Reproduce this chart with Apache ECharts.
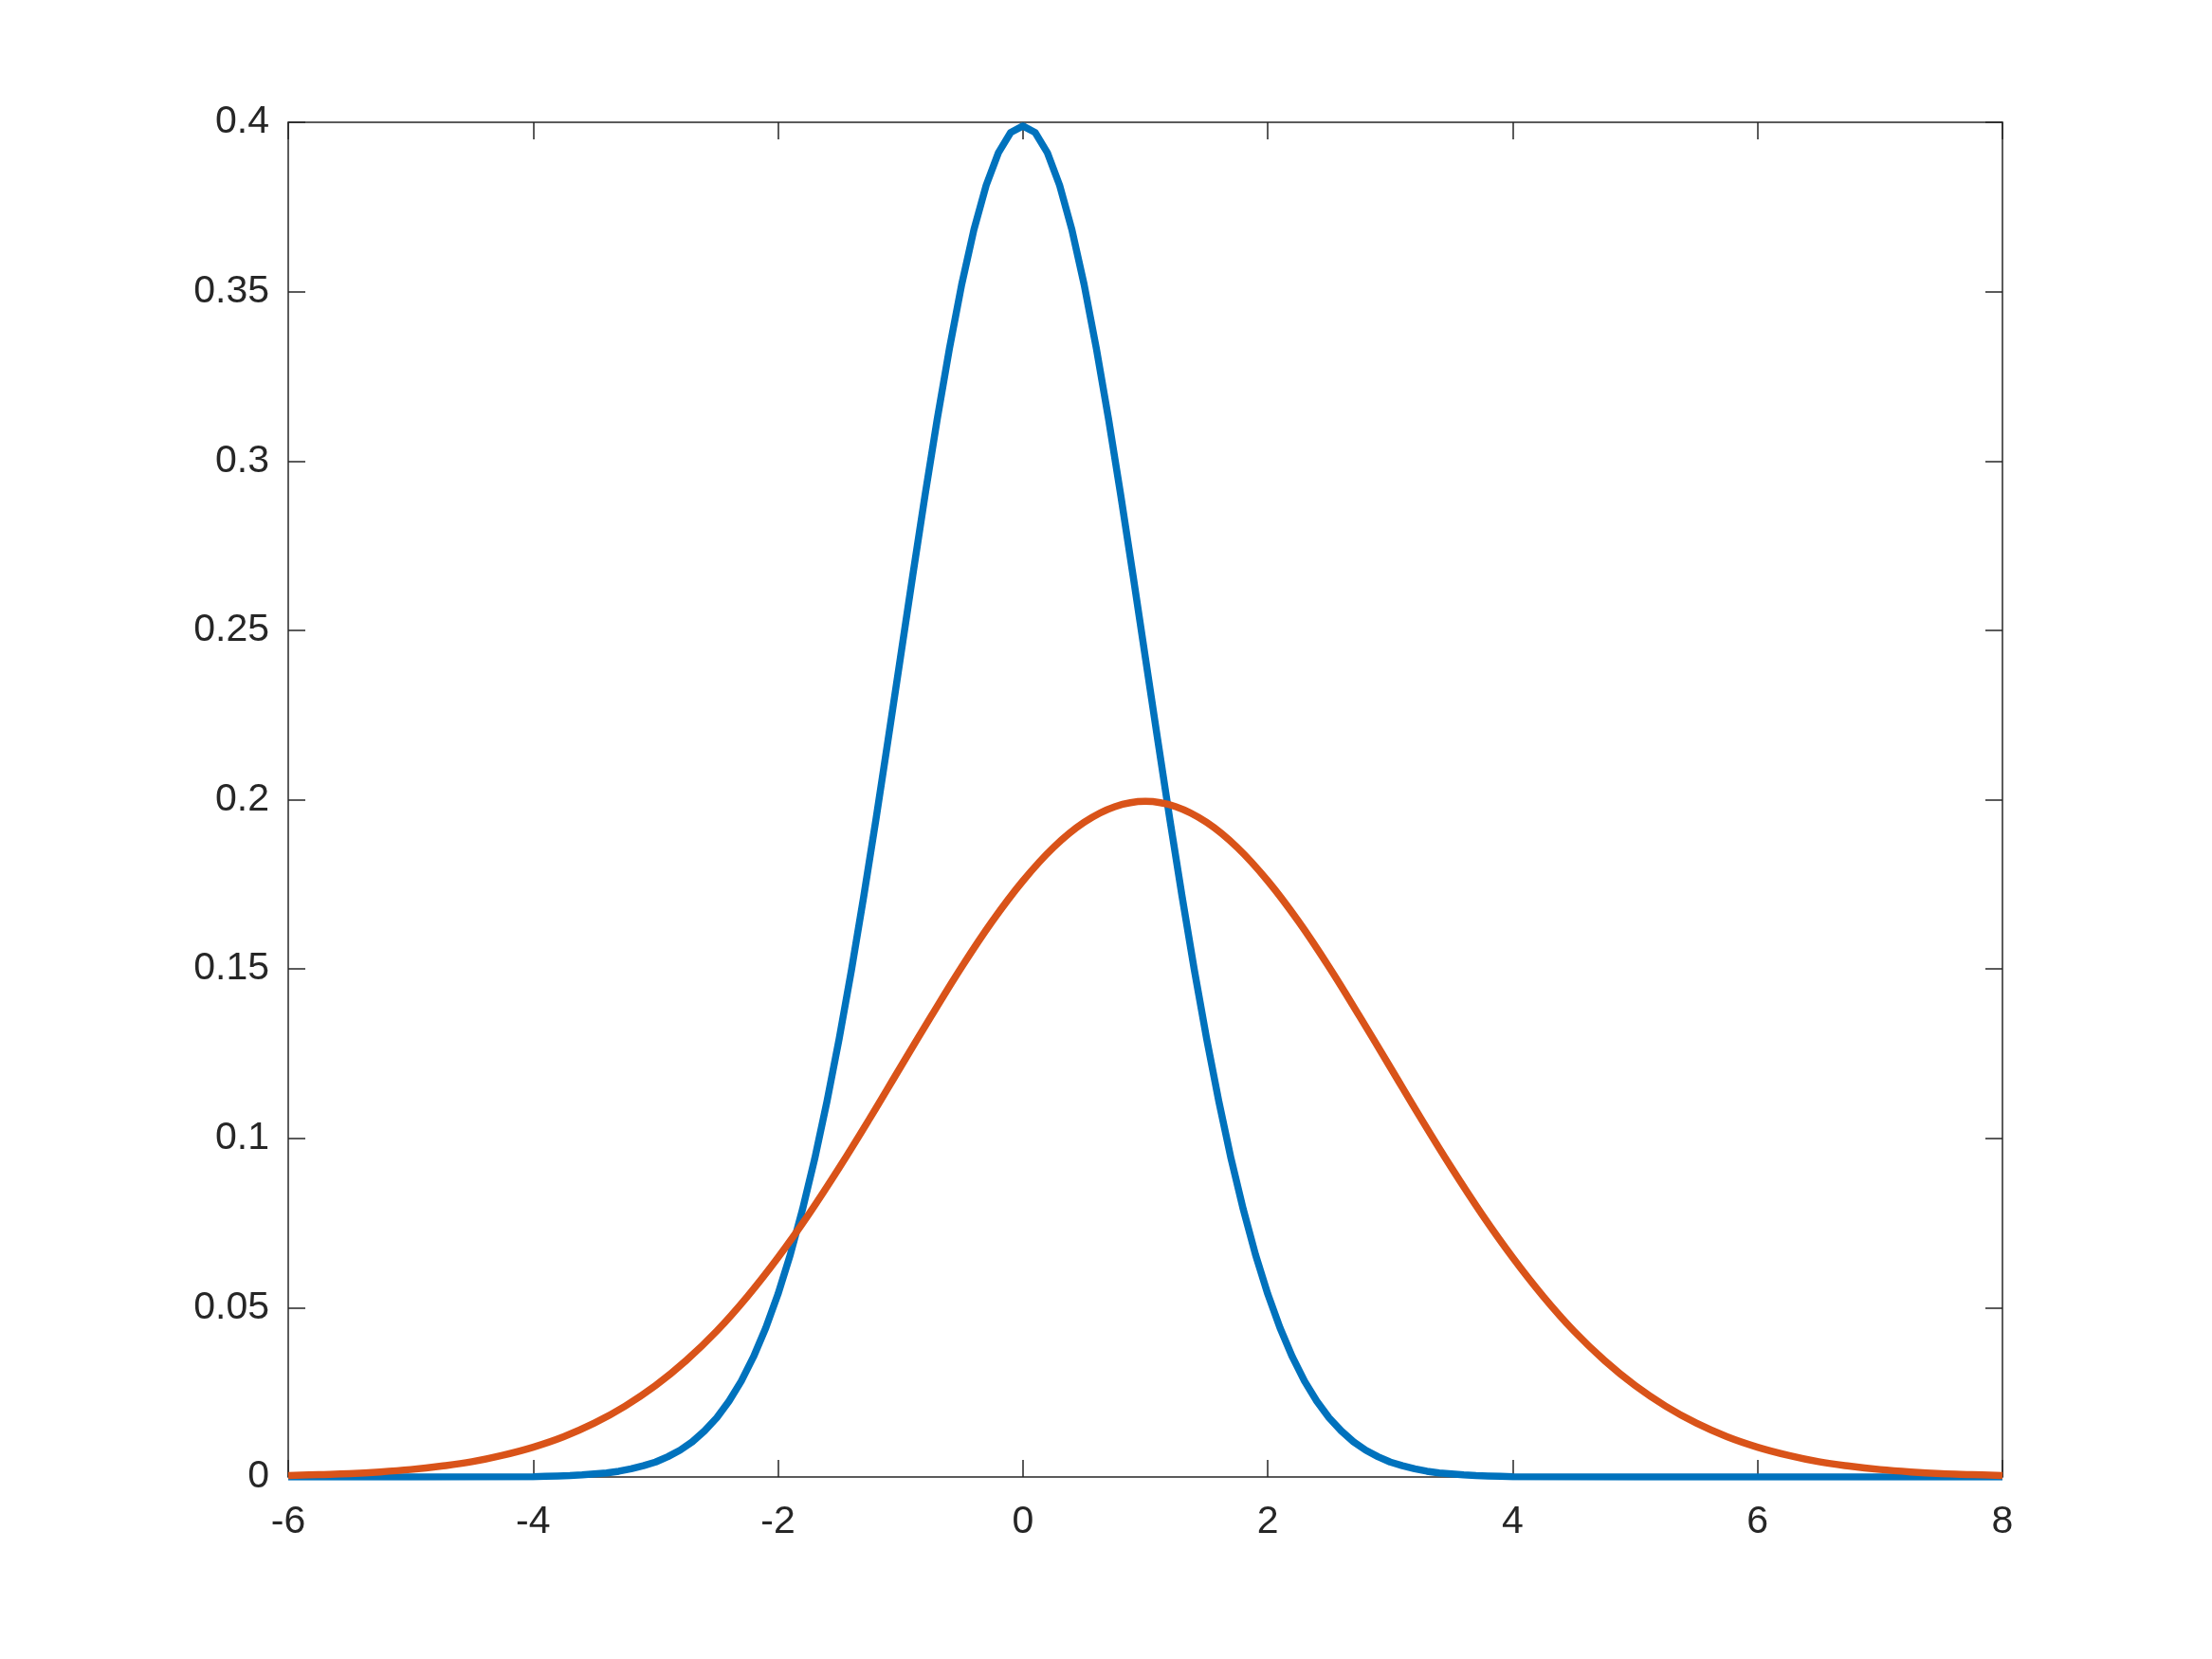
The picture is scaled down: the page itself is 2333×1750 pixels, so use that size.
<!DOCTYPE html>
<html>
<head>
<meta charset="utf-8">
<script src="https://cdn.jsdelivr.net/npm/echarts@6/dist/echarts.min.js"></script>
<style>
html,body{margin:0;padding:0;background:#fff;}
#chart{width:2333px;height:1750px;}
</style>
</head>
<body>
<div id="chart"></div>
<script>
// Blue curve (x, y)
const xBlue = [-6,-5,-4,-3.9,-3.8,-3.7,-3.6,-3.5,-3.4,-3.3,-3.2,-3.1,-3,-2.9,-2.8,-2.7,-2.6,-2.5,-2.4,-2.3,-2.2,-2.1,-2,-1.9,-1.8,-1.7,-1.6,-1.5,-1.4,-1.3,-1.2,-1.1,-1,-0.9,-0.8,-0.7,-0.6,-0.5,-0.4,-0.3,-0.2,-0.1,0,0.1,0.2,0.3,0.4,0.5,0.6,0.7,0.8,0.9,1,1.1,1.2,1.3,1.4,1.5,1.6,1.7,1.8,1.9,2,2.1,2.2,2.3,2.4,2.5,2.6,2.7,2.8,2.9,3,3.1,3.2,3.3,3.4,3.5,3.6,3.7,3.8,3.9,4,5,6,7,8];
const yBlue = [0,0,0.0001,0.0002,0.0003,0.0004,0.0006,0.0009,0.0012,0.0017,0.0024,0.0033,0.0044,0.0060,0.0079,0.0104,0.0136,0.0175,0.0224,0.0283,0.0355,0.0440,0.0540,0.0656,0.0790,0.0940,0.1109,0.1295,0.1497,0.1714,0.1942,0.2179,0.2420,0.2661,0.2897,0.3123,0.3332,0.3521,0.3683,0.3814,0.3910,0.3970,0.3989,0.3970,0.3910,0.3814,0.3683,0.3521,0.3332,0.3123,0.2897,0.2661,0.2420,0.2179,0.1942,0.1714,0.1497,0.1295,0.1109,0.0940,0.0790,0.0656,0.0540,0.0440,0.0355,0.0283,0.0224,0.0175,0.0136,0.0104,0.0079,0.0060,0.0044,0.0033,0.0024,0.0017,0.0012,0.0009,0.0006,0.0004,0.0003,0.0002,0.0001,0,0,0,0];

// Orange curve (x, y)
const xOrange = [-6,-5.75,-5.5,-5.25,-5,-4.75,-4.5,-4.25,-4,-3.75,-3.5,-3.25,-3,-2.75,-2.5,-2.25,-2,-1.75,-1.5,-1.25,-1,-0.75,-0.5,-0.25,0,0.25,0.5,0.75,1,1.25,1.5,1.75,2,2.25,2.5,2.75,3,3.25,3.5,3.75,4,4.25,4.5,4.75,5,5.25,5.5,5.75,6,6.25,6.5,6.75,7,7.25,7.5,7.75,8];
const yOrange = [0.0004,0.0007,0.0010,0.0015,0.0022,0.0032,0.0045,0.0064,0.0088,0.0119,0.0159,0.0209,0.0270,0.0344,0.0431,0.0533,0.0648,0.0775,0.0913,0.1059,0.1210,0.1360,0.1506,0.1641,0.1760,0.1859,0.1933,0.1979,0.1995,0.1979,0.1933,0.1859,0.1760,0.1641,0.1506,0.1360,0.1210,0.1059,0.0913,0.0775,0.0648,0.0533,0.0431,0.0344,0.0270,0.0209,0.0159,0.0119,0.0088,0.0064,0.0045,0.0032,0.0022,0.0015,0.0010,0.0007,0.0004];

const xMin = -6, xMax = 8, xStep = 2;
const yMin = 0, yMax = 0.4, yStep = 0.05;

const chart = echarts.init(document.getElementById('chart'), null, {renderer: 'canvas'});
const axisColor = '#262626';
const font = '"Liberation Sans", Helvetica, Arial, sans-serif';
const lineStyle = {color: axisColor, width: 1.5};
const tick = {show: true, inside: true, length: 18, lineStyle: {color: axisColor, width: 1.5}};

chart.setOption({
  animation: false,
  backgroundColor: '#ffffff',
  grid: {left: 304, top: 129, width: 1808, height: 1429, containLabel: false},
  xAxis: [
    {type: 'value', position: 'bottom', min: xMin, max: xMax, interval: xStep,
     axisLine: {show: true, onZero: false, lineStyle: lineStyle}, axisTick: tick,
     axisLabel: {color: axisColor, fontSize: 41, fontFamily: font, margin: 27},
     splitLine: {show: false}},
    {type: 'value', position: 'top', min: xMin, max: xMax, interval: xStep,
     axisLine: {show: true, onZero: false, lineStyle: lineStyle}, axisTick: tick,
     axisLabel: {show: false}, splitLine: {show: false}}
  ],
  yAxis: [
    {type: 'value', position: 'left', min: yMin, max: yMax, interval: yStep,
     axisLine: {show: true, onZero: false, lineStyle: lineStyle}, axisTick: tick,
     axisLabel: {color: axisColor, fontSize: 41, fontFamily: font, margin: 20},
     splitLine: {show: false}},
    {type: 'value', position: 'right', min: yMin, max: yMax, interval: yStep,
     axisLine: {show: true, onZero: false, lineStyle: lineStyle}, axisTick: tick,
     axisLabel: {show: false}, splitLine: {show: false}}
  ],
  series: [
    {type: 'line', xAxisIndex: 0, yAxisIndex: 0, showSymbol: false, smooth: false,
     data: xBlue.map((x, i) => [x, yBlue[i]]),
     lineStyle: {color: '#0072BD', width: 7.5, join: 'round'}, itemStyle: {color: '#0072BD'}},
    {type: 'line', xAxisIndex: 0, yAxisIndex: 0, showSymbol: false, smooth: 0.4,
     data: xOrange.map((x, i) => [x, yOrange[i]]),
     lineStyle: {color: '#D95319', width: 7.5, join: 'round'}, itemStyle: {color: '#D95319'}}
  ]
});
</script>
</body>
</html>
